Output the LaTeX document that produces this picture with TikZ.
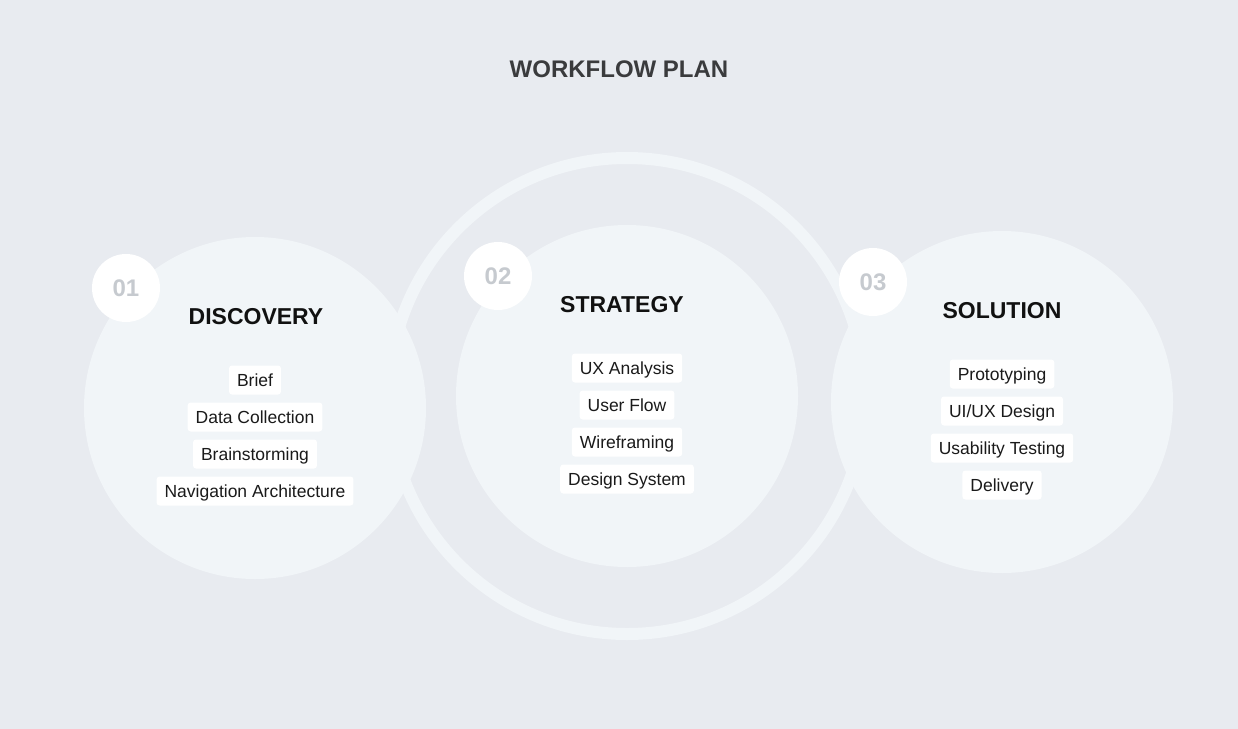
\documentclass[tikz,border=0pt]{standalone}
\usepackage{fontspec}
\setmainfont{Liberation Sans}
\begin{document}
\begin{tikzpicture}[x=1pt,y=-1pt,
  bigcirc/.style={circle,fill=circcol,minimum size=342pt,inner sep=0pt},
  badge/.style={circle,fill=white,minimum size=68pt,inner sep=0pt,text=numcol,font=\fontsize{24}{28}\selectfont\bfseries},
  heading/.style={font=\fontsize{23}{27}\selectfont\bfseries,text=headcol},
  item/.style={fill=white,rounded corners=3pt,inner xsep=8pt,inner ysep=0pt,minimum height=29pt,text height=16.1pt,text depth=3.6pt,font=\fontsize{17.5}{20}\selectfont,text=itemcol},
  ringstyle/.style={draw=circcol,line width=12pt}
]
\definecolor{bgcol}{HTML}{E8EBF0}
\definecolor{circcol}{HTML}{F1F5F8}
\definecolor{numcol}{HTML}{C6CACF}
\definecolor{headcol}{HTML}{111111}
\definecolor{itemcol}{HTML}{1A1A1A}
\definecolor{titlecol}{HTML}{3A3B3D}
\useasboundingbox (0,0) rectangle (1238,728);
\fill[bgcol] (-5,-5) rectangle (1243,733);

\node[font=\fontsize{24}{28}\selectfont\bfseries,text=titlecol] (title) at (619,69) {WORKFLOW PLAN};

\coordinate (ringc) at (627,396);
\draw[ringstyle] (ringc) circle[radius=238pt];

\node[bigcirc] (c1) at (255,408) {};
\node[bigcirc] (c2) at (627,396) {};
\node[bigcirc] (c3) at (1002,402) {};

\node[badge] (b1) at (126,288) {01};
\node[badge] (b2) at (498,276) {02};
\node[badge] (b3) at (873,282) {03};

\node[heading] (h1) at (256,317) {DISCOVERY};
\node[heading] (h2) at (622,305) {STRATEGY};
\node[heading] (h3) at (1002,311) {SOLUTION};

\node[item] (d1) at (255,380) {Brief};
\node[item] (d2) at (255,417) {Data Collection};
\node[item] (d3) at (255,454) {Brainstorming};
\node[item] (d4) at (255,491) {Navigation Architecture};

\node[item] (s1) at (627,368) {UX Analysis};
\node[item] (s2) at (627,405) {User Flow};
\node[item] (s3) at (627,442) {Wireframing};
\node[item] (s4) at (627,479) {Design System};

\node[item] (p1) at (1002,374) {Prototyping};
\node[item] (p2) at (1002,411) {UI/UX Design};
\node[item] (p3) at (1002,448) {Usability Testing};
\node[item] (p4) at (1002,485) {Delivery};
\end{tikzpicture}
\end{document}
